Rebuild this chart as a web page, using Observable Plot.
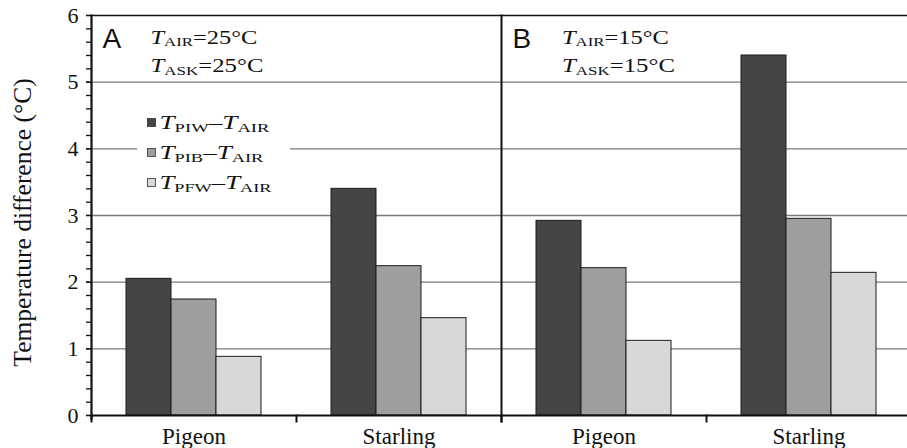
<!DOCTYPE html>
<html><head><meta charset="utf-8">
<script src="https://cdn.jsdelivr.net/npm/d3@7"></script>
<script src="https://cdn.jsdelivr.net/npm/@observablehq/plot@0.6"></script>
<style>
html,body{margin:0;padding:0;background:#fff;overflow:hidden;}
#wrap{position:relative;width:907px;height:448px;overflow:hidden;}
#wrap svg{font-family:"Liberation Serif", serif !important;}
</style></head>
<body><div id="wrap"></div>
<script>
// ---- data ----
const panels = ["A", "B"];
const species = ["Pigeon", "Starling"];
const series = ["PIW", "PIB", "PFW"];
const pigeonA = [2.05, 1.74, 0.88];
const starlingA = [3.40, 2.24, 1.46];
const pigeonB = [2.92, 2.21, 1.12];
const starlingB = [5.40, 2.95, 2.14];
const yTicks = [0, 1, 2, 3, 4, 5, 6];
const gridTicks = [1, 2, 3, 4, 5];
const minorTicks = d3.range(0, 31).map(i => i / 5);
const colors = ["#454545", "#9e9e9e", "#d8d8d8"];
const airTemps = {A: "25", B: "15"};
const yTitle = "Temperature difference (°C)";

const groups = {"A|Pigeon": pigeonA, "A|Starling": starlingA, "B|Pigeon": pigeonB, "B|Starling": starlingB};
const keys = [];
panels.forEach(p => species.forEach(s => keys.push(p + "|" + s)));
const rows = [];
keys.forEach(k => series.forEach((s, i) => rows.push({key: k, series: s, value: groups[k][i]})));

// ---- layout ----
const W = 907, H = 448, mTop = 15, mBottom = 33, mLeft = 91, mRight = -4;
const plotH = H - mTop - mBottom;
const ink = "#111";
const serif = "Liberation Serif";

const chart = Plot.plot({
  width: W, height: H,
  marginLeft: mLeft, marginRight: mRight, marginTop: mTop, marginBottom: mBottom,
  style: {fontFamily: serif, color: ink, background: "#fff", overflow: "hidden"},
  fx: {domain: keys, padding: 0},
  x: {domain: series, paddingInner: 0, paddingOuter: 0.74, axis: null},
  y: {domain: [0, 6]},
  color: {domain: series, range: colors},
  marks: [
    Plot.ruleY(gridTicks, {stroke: "#7a7a7a", strokeWidth: 1.3}),
    Plot.ruleY([6], {stroke: ink, strokeWidth: 1.6}),
    Plot.barY(rows, {fx: "key", x: "series", y: "value", fill: "series", stroke: "#1c1c1c", strokeWidth: 1}),
    Plot.ruleY([0], {stroke: ink, strokeWidth: 2.2}),
    Plot.frame({anchor: "left", insetTop: plotH, insetBottom: -6, stroke: ink, strokeWidth: 2}),
    Plot.frame({anchor: "left", fx: ["B|Pigeon"], insetBottom: -6, stroke: ink, strokeWidth: 2}),
    Plot.frame({anchor: "left", fx: ["A|Pigeon"], insetBottom: -3, stroke: ink, strokeWidth: 2.2}),
    Plot.axisY({ticks: minorTicks, tickSize: 5, tickFormat: () => "", label: null, facetAnchor: "left", strokeWidth: 1.3}),
    Plot.axisY({ticks: yTicks, tickSize: 5, tickPadding: 8, fontSize: 22, fontFamily: serif, facetAnchor: "left", strokeWidth: 1.3,
      tickFormat: d => String(d), label: null}),
    Plot.text([yTitle], {fx: ["A|Pigeon"], text: d => d, frameAnchor: "left", textAnchor: "middle", rotate: -90, lineAnchor: "middle",
      dx: -69, dy: 7, fontSize: 25.5, fontFamily: serif, fill: ink}),
    Plot.axisFx({anchor: "bottom", tickSize: 0, tickPadding: 12, fontSize: 23, fontFamily: serif, label: null, tickFormat: d => d.split("|")[1]})
  ]
});
document.getElementById("wrap").appendChild(chart);

// ---- annotations & legend ----
const svg = d3.select(chart);
const g = svg.append("g").attr("text-anchor", "start");

function rich(x, y, parts, target) {
  const t = g.append("text").attr("font-family", serif).attr("font-size", 19).attr("fill", ink).attr("text-anchor", "start");
  let shifted = false;
  parts.forEach(p => {
    const ts = t.append("tspan").text(p.t);
    if (p.i) ts.attr("font-style", "italic");
    if (p.sub) { ts.attr("font-size", 13).attr("dy", 2.5); shifted = true; }
    else if (shifted) { ts.attr("dy", -2.5); shifted = false; }
  });
  const w = t.node().getComputedTextLength();
  const sx = target ? target / w : 1;
  t.attr("transform", `translate(${x},${y}) scale(${sx},1)`);
  return t;
}

panels.forEach((p, pi) => {
  const x0 = pi === 0 ? 0 : 410;
  g.append("text").attr("x", 102.5 + x0).attr("y", 48).attr("font-family", "Liberation Sans")
    .attr("text-anchor", "start").attr("font-size", 28).attr("fill", ink).text(p);
  rich(150.5 + x0 + (pi ? 1.5 : 0), 43.5, [{t: "T", i: 1}, {t: "AIR", sub: 1}, {t: "=" + airTemps[p] + "°C"}], 107);
  rich(150.5 + x0 + (pi ? 1.5 : 0), 72, [{t: "T", i: 1}, {t: "ASK", sub: 1}, {t: "=" + airTemps[p] + "°C"}], 113);
});

// legend
g.append("rect").attr("x", 137).attr("y", 106).attr("width", 153).attr("height", 90).attr("fill", "#fff");
const legendSubs = ["PIW", "PIB", "PFW"];
const legendW = [110, 104, 112];
series.forEach((s, i) => {
  const cy = 122.5 + i * 30;
  g.append("rect").attr("x", 147.5).attr("y", cy - 4).attr("width", 8).attr("height", 8)
    .attr("fill", colors[i]).attr("stroke", "#333").attr("stroke-width", 0.8);
  rich(159.5, cy + 6.8, [{t: "T", i: 1}, {t: legendSubs[i], sub: 1}, {t: "–"}, {t: "T", i: 1}, {t: "AIR", sub: 1}], legendW[i]);
});
</script>
</body></html>
